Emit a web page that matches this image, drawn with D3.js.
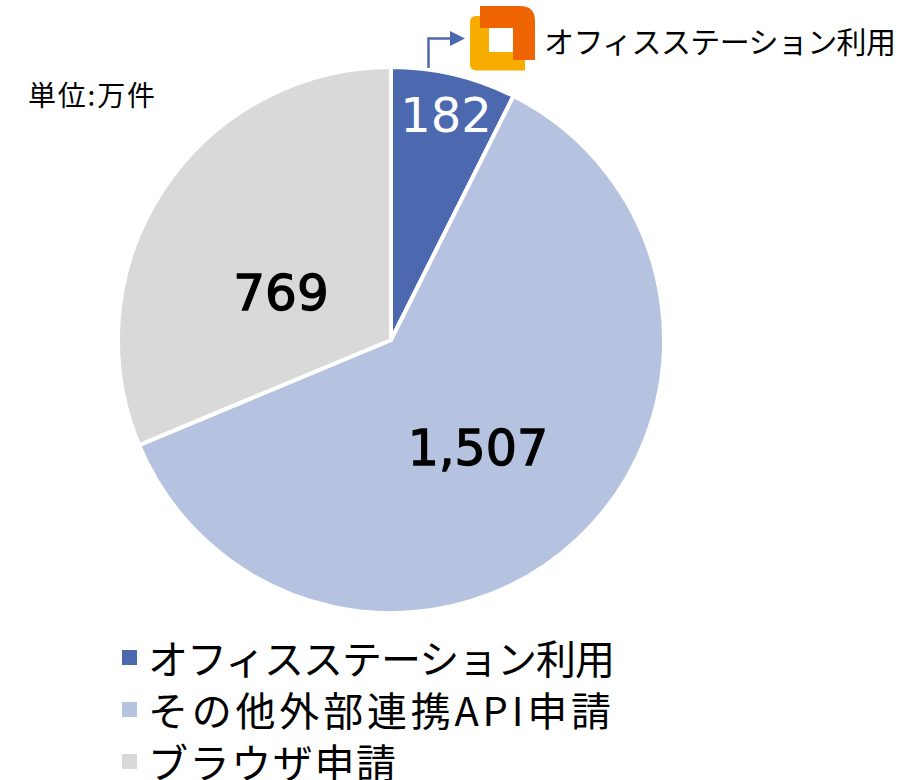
<!DOCTYPE html>
<html>
<head>
<meta charset="utf-8">
<script src="https://cdn.jsdelivr.net/npm/d3@7"></script>
<style>
html, body { margin: 0; padding: 0; background: #fff; }
svg { display: block; }
text { font-family: "Noto Sans CJK JP", sans-serif; fill: #000; }
</style>
</head>
<body>
<svg id="chart" width="902" height="780"></svg>
<script>
const categories = ["オフィスステーション利用", "その他外部連携API申請", "ブラウザ申請"];
const values = [182, 1507, 769];
const valueLabels = ["182", "1,507", "769"];
const colors = ["#4c69b0", "#b5c2e0", "#d9d9d9"];
const labelColors = ["#fff", "#000", "#000"];
const labelPos = [[446, 115], [478, 447], [281, 292]]; // centre of each number
const labelSizes = [48, 49, 50];
const legendWidths = [467, 463, 248]; // text runs are wider than the CJK font here
const unitLabel = "単位:万件";

const svg = d3.select("#chart");

// pie
const cx = 391, cy = 340, radius = 273;
const pie = d3.pie().sort(null).value(d => d);
const arc = d3.arc().innerRadius(0).outerRadius(radius);

svg.append("g")
    .attr("transform", `translate(${cx},${cy})`)
    .selectAll("path")
    .data(pie(values))
    .enter().append("path")
    .attr("d", arc)
    .attr("fill", (d, i) => colors[i])
    .attr("stroke", "#fff")
    .attr("stroke-width", 4);

// numbers on slices
svg.selectAll("text.val")
    .data(valueLabels)
    .enter().append("text")
    .attr("class", "val")
    .attr("x", (d, i) => labelPos[i][0])
    .attr("y", (d, i) => labelPos[i][1])
    .attr("dy", "0.36em")
    .attr("text-anchor", "middle")
    .attr("font-size", (d, i) => labelSizes[i])
    .attr("stroke", (d, i) => i === 0 ? "none" : "#000")
    .attr("stroke-width", 1.3)
    .style("font-family", "'DejaVu Sans', sans-serif")
    .style("fill", (d, i) => labelColors[i])
    .text(d => d);

svg.append("text")
    .attr("x", 28)
    .attr("y", 106)
    .attr("font-size", 28)
    .attr("textLength", 127)
    .text(unitLabel);

// callout arrow
svg.append("path")
    .attr("d", "M428.5,68V38.5H452")
    .attr("fill", "none")
    .attr("stroke", colors[0])
    .attr("stroke-width", 2.5);
svg.append("path")
    .attr("d", "M450,31L465,38.5L450,46Z")
    .attr("fill", colors[0]);

// logo
svg.append("path")
    .attr("d", "M476,16H525V70.5H477Q470,70.5 470,64V22Q470,16 476,16Z")
    .attr("fill", "#f7ac00");
svg.append("rect")
    .attr("x", 489).attr("y", 28)
    .attr("width", 24).attr("height", 24)
    .attr("fill", "#fff");
svg.append("path")
    .attr("d", "M480,6H520Q535,6 535,21V60H513V28H480Z")
    .attr("fill", "#ee6400");

svg.append("text")
    .attr("x", 544)
    .attr("y", 53)
    .attr("font-size", 30)
    .attr("textLength", 352)
    .text(categories[0]);

// legend
const legendY = d3.scalePoint().domain(categories).range([658, 762]);
const legend = svg.selectAll("g.legend")
    .data(categories)
    .enter().append("g")
    .attr("class", "legend")
    .attr("transform", d => `translate(0,${legendY(d)})`);

legend.append("rect")
    .attr("x", 122)
    .attr("y", -8)
    .attr("width", 15)
    .attr("height", 15)
    .attr("fill", (d, i) => colors[i]);

legend.append("text")
    .attr("x", 148)
    .attr("y", 16)
    .attr("font-size", 40)
    .attr("textLength", (d, i) => legendWidths[i])
    .text(d => d);
</script>
</body>
</html>
